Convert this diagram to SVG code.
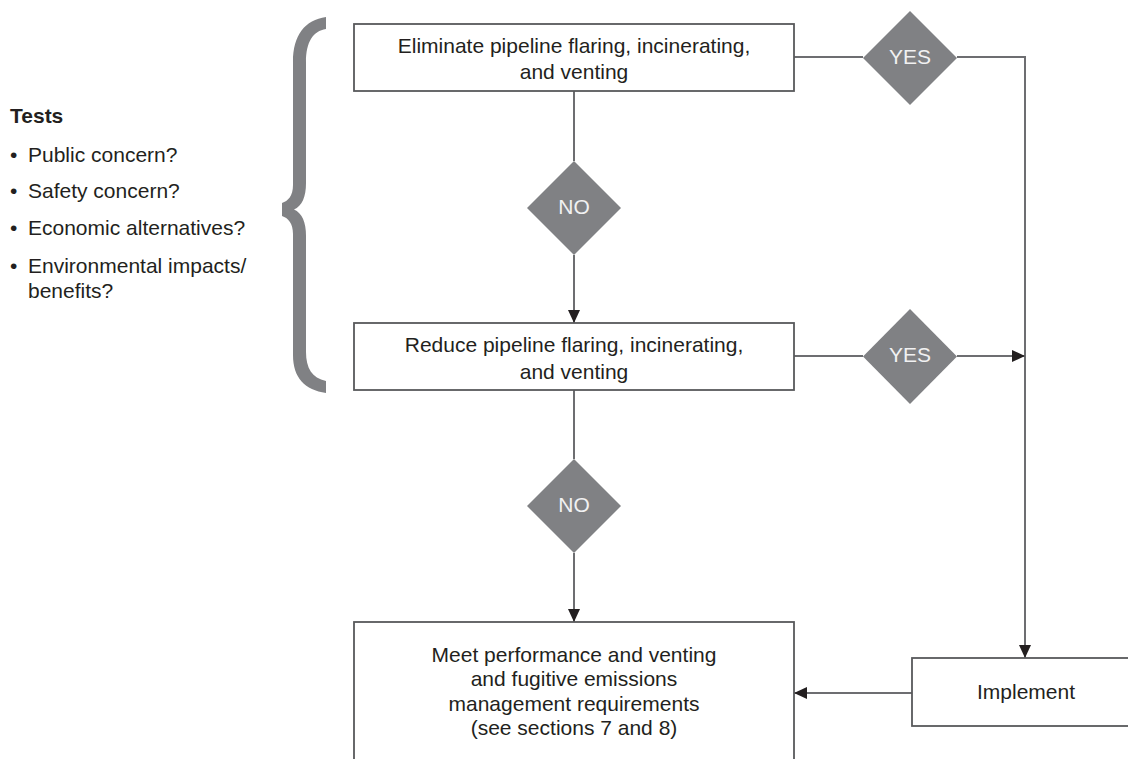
<svg xmlns="http://www.w3.org/2000/svg" width="1128" height="759" viewBox="0 0 1128 759">
<style>
.box{fill:#fff;stroke:#58595b;stroke-width:1.8}
.dia{fill:#808184}
.t{font-family:"Liberation Sans",Arial,sans-serif;font-size:21px;fill:#231f20}
.c{text-anchor:middle}
.dt{font-family:"Liberation Sans",Arial,sans-serif;font-size:21px;fill:#f1f1f2;text-anchor:middle}
.ln{fill:none;stroke:#6d6e71;stroke-width:2}
</style>
<defs>
<marker id="ah" markerWidth="13" markerHeight="12" refX="13" refY="6" orient="auto" markerUnits="userSpaceOnUse">
<path d="M0,0 L13,6 L0,12 Z" fill="#231f20"/>
</marker>
</defs>
<rect width="1128" height="759" fill="#fff"/>
<g id="tests">
<text class="t" x="10" y="123" font-weight="bold" font-size="20">Tests</text>
<text class="t" x="10" y="162">•</text><text class="t" x="28" y="162">Public concern?</text>
<text class="t" x="10" y="198">•</text><text class="t" x="28" y="198">Safety concern?</text>
<text class="t" x="10" y="235">•</text><text class="t" x="28" y="235">Economic alternatives?</text>
<text class="t" x="10" y="273">•</text><text class="t" x="28" y="273">Environmental impacts/</text>
<text class="t" x="28" y="298">benefits?</text>
</g>
<g id="brace">
<path fill="#808184" d="M326,17 C305,20 293,35 293,62 L293,185 C293,196 288,201 282,203 L282,216 C288,218 293,223 293,234 L293,355 C293,378 305,390 326,393 L326,381 C312,378 306,368 306,352 L306,236 C306,222 302,213 294,209.5 C302,206 306,197 306,183 L306,62 C306,42 313,31 326,29 Z"/>
</g>
<g id="connectors">
<path class="ln" d="M794,57 H863"/>
<path class="ln" d="M957,57 H1025 V658" marker-end="url(#ah)"/>
<path class="ln" d="M574,91 V161"/>
<path class="ln" d="M574,255 V323" marker-end="url(#ah)"/>
<path class="ln" d="M794,356 H863"/>
<path class="ln" d="M957,356 H1025" marker-end="url(#ah)"/>
<path class="ln" d="M574,390 V459"/>
<path class="ln" d="M574,553 V622" marker-end="url(#ah)"/>
<path class="ln" d="M912,693 H794" marker-end="url(#ah)"/>
</g>
<g id="eliminate">
<rect class="box" x="354" y="24" width="440" height="67"/>
<text class="t c" x="574" y="53">Eliminate pipeline flaring, incinerating,</text>
<text class="t c" x="574" y="79">and venting</text>
</g>
<g id="yes1">
<polygon class="dia" points="910,11 957,58 910,105 863,58"/>
<text class="dt" x="910" y="63.5">YES</text>
</g>
<g id="no1">
<polygon class="dia" points="574,161 621,208 574,255 527,208"/>
<text class="dt" x="574" y="214">NO</text>
</g>
<g id="reduce">
<rect class="box" x="354" y="323" width="440" height="67"/>
<text class="t c" x="574" y="352">Reduce pipeline flaring, incinerating,</text>
<text class="t c" x="574" y="379">and venting</text>
</g>
<g id="yes2">
<polygon class="dia" points="910,309 957,356.5 910,404 863,356.5"/>
<text class="dt" x="910" y="362">YES</text>
</g>
<g id="no2">
<polygon class="dia" points="574,459 621,506 574,553 527,506"/>
<text class="dt" x="574" y="512">NO</text>
</g>
<g id="meet">
<rect class="box" x="354" y="622" width="440" height="160"/>
<text class="t c" x="574" y="662">Meet performance and venting</text>
<text class="t c" x="574" y="686">and fugitive emissions</text>
<text class="t c" x="574" y="711">management requirements</text>
<text class="t c" x="574" y="735">(see sections 7 and 8)</text>
</g>
<g id="implement">
<rect class="box" x="912" y="658" width="228" height="68"/>
<text class="t c" x="1026" y="699">Implement</text>
</g>
</svg>
